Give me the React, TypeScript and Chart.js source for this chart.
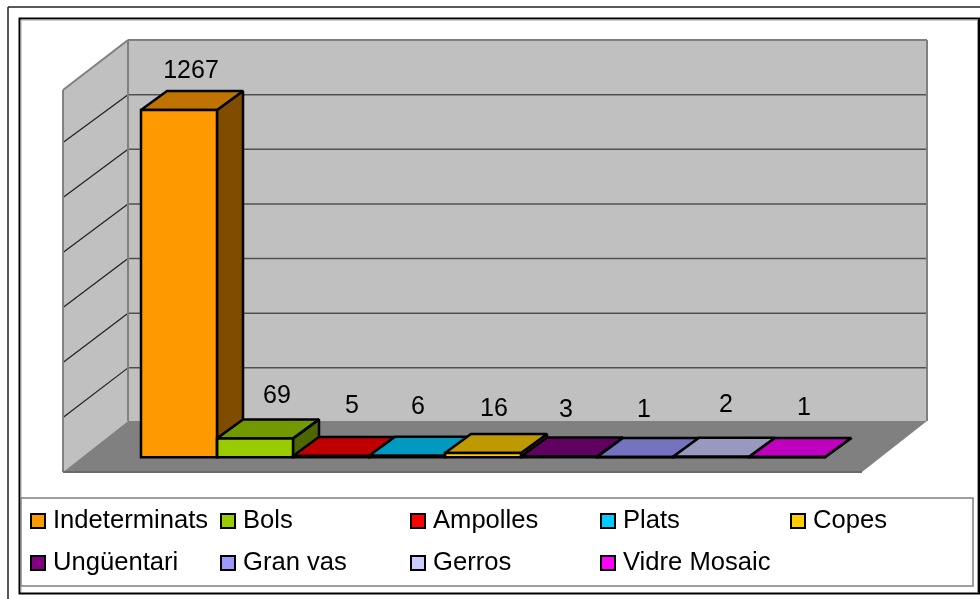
import React, { useEffect, useRef } from "react";
import { Chart, registerables } from "chart.js";

Chart.register(...registerables);

const categoryLabels = ["Vidre"];
const seriesNames = ["Indeterminats", "Bols", "Ampolles", "Plats", "Copes", "Ungüentari", "Gran vas", "Gerros", "Vidre Mosaic"];
const seriesValues = [1267, 69, 5, 6, 16, 3, 1, 2, 1];
const frontColors = ["#FF9900", "#99CC00", "#FF0000", "#00CCFF", "#FFCC00", "#800080", "#9999FF", "#CCCCFF", "#FF00FF"];
const topColors = ["#BF7300", "#739900", "#BF0000", "#0099BF", "#BF9900", "#600060", "#7373BF", "#9999BF", "#BF00BF"];
const sideColors = ["#804D00", "#4D6600", "#800000", "#006680", "#806600", "#400040", "#4D4D80", "#666680", "#800080"];
const axisTicks = [0, 200, 400, 600, 800, 1000, 1200, 1400];

// hand placement of the value labels relative to the top of each bar
const labelNudgeX = [-1, 9, 8, -2, -2, -6, -4, 2, 4];
const labelNudgeY = [-29, -33, -40, -39, -34, -37, -37, -42, -39];

const FONT = '"Liberation Sans", Arial, sans-serif';
const BAR_DEPTH = { x: 26, y: -19 };
const WALL = { left: 128, right: 927, top: 40, bottom: 421 };
const FLOOR_DEPTH = { x: 65, y: 51 };
const WALL_TOP_DROP = 50;
const GRID_BACK = { zero: 422.5, top: 40 };
const GRID_SIDE = { zero: 472.6, top: 87.6 };
const OUTLINE = 2.5;

const legendColumns = [30, 220, 410, 600, 790];
const legendRows = [513, 555];
const LEGEND_PER_ROW = 5;

function poly(ctx: CanvasRenderingContext2D, pts: number[][], fill: string | null, stroke: string | null, lw = 2) {
  ctx.beginPath();
  pts.forEach((p, i) => (i ? ctx.lineTo(p[0], p[1]) : ctx.moveTo(p[0], p[1])));
  ctx.closePath();
  if (fill) {
    ctx.fillStyle = fill;
    ctx.fill();
  }
  if (stroke) {
    ctx.strokeStyle = stroke;
    ctx.lineWidth = lw;
    ctx.lineJoin = "miter";
    ctx.miterLimit = 1.6;
    ctx.stroke();
  }
}

function seg(ctx: CanvasRenderingContext2D, x1: number, y1: number, x2: number, y2: number, color: string, lw: number) {
  ctx.beginPath();
  ctx.moveTo(x1, y1);
  ctx.lineTo(x2, y2);
  ctx.strokeStyle = color;
  ctx.lineWidth = lw;
  ctx.stroke();
}

const frame3d = {
  id: "frame3d",
  beforeDatasetsDraw(chart: any) {
    const { ctx, scales } = chart;
    const y = scales.y;
    const fx = FLOOR_DEPTH.x;
    const fy = FLOOR_DEPTH.y;
    const yMin = y.min;
    const yMax = y.max;
    ctx.save();

    // page frames
    seg(ctx, 8, 7, 980, 7, "#222222", 1.5);
    seg(ctx, 8, 7, 8, 599, "#222222", 1.5);
    poly(ctx, [[19.5, 18.5], [979, 18.5], [979, 593.5], [19.5, 593.5]], null, "#000000", 2);
    seg(ctx, 21, 20, 977, 20, "#a0a0a0", 1);
    seg(ctx, 21, 20, 21, 592, "#a0a0a0", 1);
    seg(ctx, 977.5, 20, 977.5, 592, "#a0a0a0", 1);

    // walls and floor
    poly(ctx, [[WALL.left, WALL.top], [WALL.right, WALL.top], [WALL.right, WALL.bottom], [WALL.left, WALL.bottom]], "#C0C0C0", null);
    poly(ctx, [[WALL.left - fx, WALL.top + WALL_TOP_DROP], [WALL.left, WALL.top], [WALL.left, WALL.bottom], [WALL.left - fx, WALL.bottom + fy]], "#C0C0C0", null);
    poly(ctx, [[WALL.left - fx, WALL.bottom + fy], [WALL.left, WALL.bottom], [WALL.right, WALL.bottom], [WALL.right - fx, WALL.bottom + fy]], "#808080", null);

    // gridlines follow the value axis, projected onto the two walls
    axisTicks.forEach((t) => {
      if (t === yMin || t === yMax) return;
      const frac = (t - yMin) / (yMax - yMin);
      const py = GRID_BACK.zero - frac * (GRID_BACK.zero - GRID_BACK.top);
      const sideY = GRID_SIDE.zero - frac * (GRID_SIDE.zero - GRID_SIDE.top);
      seg(ctx, WALL.left, py, WALL.right, py, "#505050", 1.5);
      seg(ctx, WALL.left, py, WALL.left - fx, sideY, "#202020", 1.2);
    });

    // wall outlines
    const edge = "#808080";
    seg(ctx, WALL.left - fx, WALL.top + WALL_TOP_DROP, WALL.left, WALL.top, edge, 2);
    seg(ctx, WALL.left, WALL.top, WALL.right, WALL.top, edge, 2);
    seg(ctx, WALL.right, WALL.top, WALL.right, WALL.bottom, edge, 2);
    seg(ctx, WALL.left, WALL.top, WALL.left, WALL.bottom, edge, 2);
    seg(ctx, WALL.left - fx, WALL.top + WALL_TOP_DROP, WALL.left - fx, WALL.bottom + fy, edge, 2);
    seg(ctx, WALL.left - fx, WALL.bottom + fy, WALL.right - fx, WALL.bottom + fy, "#6a6a6a", 2);

    // bar depth faces, left to right
    seriesValues.forEach((_, i) => {
      const el = chart.getDatasetMeta(i).data[0];
      const l = el.x - el.width / 2;
      const r = el.x + el.width / 2;
      const t = el.y;
      const b = el.base;
      const dx = BAR_DEPTH.x;
      const dy = BAR_DEPTH.y;
      poly(ctx, [[r, t], [r + dx, t + dy], [r + dx, b + dy], [r, b]], sideColors[i], "#000000", OUTLINE);
      poly(ctx, [[l, t], [l + dx, t + dy], [r + dx, t + dy], [r, t]], topColors[i], "#000000", OUTLINE);
    });
    ctx.restore();
  },
  afterDatasetsDraw(chart: any) {
    const { ctx } = chart;
    ctx.save();
    seriesValues.forEach((v, i) => {
      const el = chart.getDatasetMeta(i).data[0];
      const l = el.x - el.width / 2;
      const r = el.x + el.width / 2;
      poly(ctx, [[l, el.y], [r, el.y], [r, el.base], [l, el.base]], null, "#000000", OUTLINE);
      ctx.fillStyle = "#000000";
      ctx.font = `25px ${FONT}`;
      ctx.textAlign = "center";
      ctx.textBaseline = "middle";
      ctx.fillText(String(v), el.x + BAR_DEPTH.x / 2 + labelNudgeX[i], el.y + BAR_DEPTH.y / 2 + labelNudgeY[i]);
    });

    // legend
    poly(ctx, [[21, 498], [973, 498], [973, 586], [21, 586]], "#FFFFFF", "#808080", 1.5);
    ctx.font = `25.6px ${FONT}`;
    ctx.textAlign = "left";
    ctx.textBaseline = "alphabetic";
    seriesNames.forEach((name, i) => {
      const x = legendColumns[i % LEGEND_PER_ROW];
      const y = legendRows[Math.floor(i / LEGEND_PER_ROW)];
      poly(ctx, [[x + 1, y + 1], [x + 15, y + 1], [x + 15, y + 15], [x + 1, y + 15]], frontColors[i], "#000000", 2);
      ctx.fillStyle = "#000000";
      ctx.fillText(name, x + 23, y + 15);
    });
    ctx.restore();
  },
};

export default function App() {
  const ref = useRef<HTMLCanvasElement>(null);
  useEffect(() => {
    const chart = new Chart(ref.current as HTMLCanvasElement, {
      type: "bar",
      data: {
        labels: categoryLabels,
        datasets: seriesNames.map((name, i) => ({
          label: name,
          data: [seriesValues[i]],
          backgroundColor: frontColors[i],
          borderWidth: 0,
          barPercentage: 1,
          categoryPercentage: 684 / 799,
        })),
      },
      options: {
        responsive: false,
        animation: false,
        layout: { padding: { left: 83.5, right: 97.5, top: 73.5, bottom: 141.7 } },
        plugins: { legend: { display: false }, tooltip: { enabled: false }, title: { display: false } },
        scales: {
          x: { display: false, stacked: false },
          y: { display: false, min: 0, max: 1400 },
        },
      },
      plugins: [frame3d],
    } as any);
    return () => chart.destroy();
  }, []);
  return (
    <div style={{ position: "absolute", left: 0, top: 0, width: 980, height: 599, background: "#fff" }}>
      <canvas ref={ref} width={980} height={599} style={{ display: "block" }} />
    </div>
  );
}
